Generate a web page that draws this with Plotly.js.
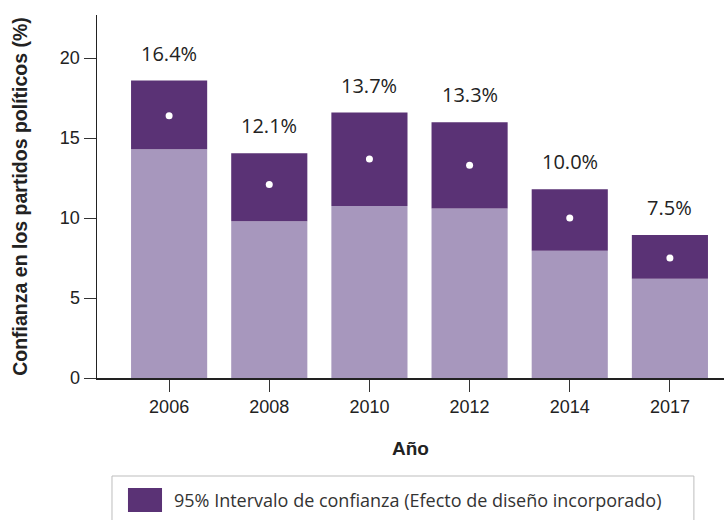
<!DOCTYPE html>
<html>
<head>
<meta charset="utf-8">
<script src="https://cdn.plot.ly/plotly-3.0.1.min.js"></script>
<style>
  html, body { margin: 0; padding: 0; background: #fff; }
  #chart { width: 724px; height: 520px; }
</style>
</head>
<body>
<div id="chart"></div>
<script>
// Data
const years = ['2006', '2008', '2010', '2012', '2014', '2017'];
const estimate = [16.4, 12.1, 13.7, 13.3, 10.0, 7.5];
const lowerCI = [14.3, 9.8, 10.75, 10.6, 7.95, 6.2];
const upperCI = [18.6, 14.05, 16.6, 16.0, 11.8, 8.95];
const legendLabel = '95% Intervalo de confianza (Efecto de diseño incorporado)';
const yTickVals = [0, 5, 10, 15, 20];

const lightColor = '#a797bd';
const darkColor = '#5a3275';
const tickFont = 'Arial, "Liberation Sans", sans-serif';
const labelFont = '"Open Sans", "Noto Sans", sans-serif';

const traces = [
  {
    type: 'bar', x: years, y: lowerCI,
    marker: { color: lightColor }, width: 0.76,
    hoverinfo: 'skip', showlegend: false
  },
  {
    type: 'bar', x: years,
    y: upperCI.map((u, i) => u - lowerCI[i]),
    base: lowerCI,
    marker: { color: darkColor }, width: 0.76,
    name: legendLabel, showlegend: false
  },
  {
    type: 'scatter', mode: 'markers', x: years, y: estimate,
    marker: { color: '#ffffff', size: 7 },
    showlegend: false
  }
];

// Value labels above each bar (x given as category index on the category axis)
const annotations = years.map((yr, i) => ({
  x: i, y: upperCI[i], xref: 'x', yref: 'y',
  text: estimate[i].toFixed(1) + '%',
  showarrow: false, yanchor: 'bottom', yshift: 12,
  font: { family: labelFont, size: 20, color: '#222' }
}));

// Custom legend text
annotations.push({
  xref: 'paper', yref: 'paper', x: 0.1195, y: -0.336,
  xanchor: 'left', yanchor: 'middle', showarrow: false,
  text: legendLabel,
  font: { family: labelFont, size: 18, color: '#333' }
});

const shapes = [
  { type: 'rect', xref: 'paper', yref: 'paper',
    x0: 0.0239, x1: 0.952, y0: -0.27, y1: -0.45,
    line: { color: '#bdbdbd', width: 1 }, fillcolor: 'rgba(0,0,0,0)' },
  { type: 'rect', xref: 'paper', yref: 'paper',
    x0: 0.0494, x1: 0.1037, y0: -0.303, y1: -0.369,
    line: { width: 0 }, fillcolor: darkColor }
];

const layout = {
  width: 724, height: 520,
  margin: { l: 97, r: 0, t: 15, b: 142 },
  paper_bgcolor: '#fff', plot_bgcolor: '#fff',
  barmode: 'overlay',
  showlegend: false,
  xaxis: {
    type: 'category', range: [-0.72, 5.54],
    showline: true, linecolor: '#222', linewidth: 1.5,
    ticks: 'outside', ticklen: 12, tickcolor: '#333', tickwidth: 1,
    showgrid: false, zeroline: false,
    tickfont: { family: tickFont, size: 18, color: '#222' },
    title: { text: '<b>Año</b>', standoff: 25,
      font: { family: tickFont, size: 19, color: '#222' } }
  },
  yaxis: {
    range: [0, 22.7],
    tickvals: yTickVals,
    showline: true, linecolor: '#222', linewidth: 1.5,
    ticks: 'outside', ticklen: 12, tickcolor: '#333', tickwidth: 1,
    showgrid: false, zeroline: false,
    tickfont: { family: tickFont, size: 18, color: '#222' },
    title: { text: '<b>Confianza en los partidos políticos (%)</b>', standoff: 27,
      font: { family: tickFont, size: 19.5, color: '#222' } }
  },
  annotations: annotations,
  shapes: shapes
};

Plotly.newPlot('chart', traces, layout, { displayModeBar: false, staticPlot: true });
</script>
</body>
</html>
